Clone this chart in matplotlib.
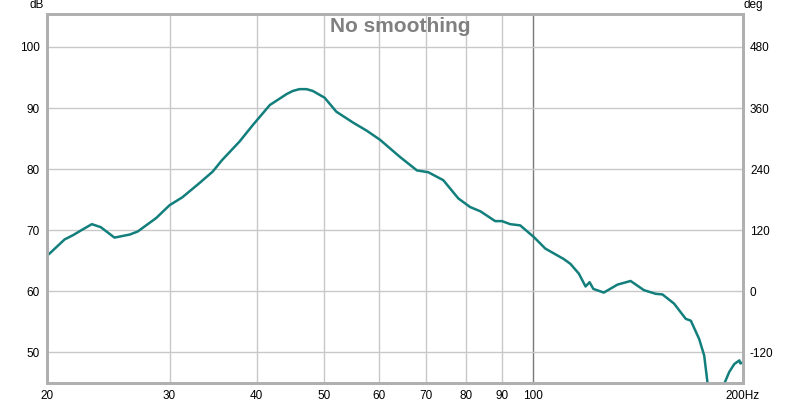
import matplotlib
matplotlib.use('Agg')
import matplotlib.pyplot as plt

matplotlib.rcParams['font.family'] = ['Liberation Sans', 'DejaVu Sans']
matplotlib.rcParams['font.size'] = 8.5

# frequency response
freq = [20.0, 20.13, 21.2, 21.8, 22.4, 23.2, 23.9, 25.0, 26.3, 27.0, 28.7, 30.0, 31.3,
        33.1, 34.6, 35.7, 37.8, 39.5, 41.8, 44.2, 45.1, 46.1, 47.2, 48.2, 50.1, 52.1, 55.1,
        57.6, 60.2, 64.3, 68.0, 70.6, 74.2, 78.0, 81.1, 83.9, 88.1, 90.1, 92.6,
        95.7, 100.1, 104.0, 110.5, 113.0, 116.2, 118.8, 120.4, 121.9, 126.2,
        132.0, 137.9, 144.1, 149.8, 153.2, 159.2, 165.5, 168.3, 173.0, 175.9,
        177.9, 181.1, 184.7, 188.0, 191.1, 194.3, 197.6, 198.3, 200.0]
spl = [66.0, 66.1, 68.5, 69.2, 70.0, 71.0, 70.5, 68.8, 69.3, 69.8, 72.0, 74.1, 75.4,
       77.7, 79.6, 81.5, 84.5, 87.2, 90.5, 92.3, 92.8, 93.1, 93.1, 92.8, 91.7, 89.4, 87.6,
       86.3, 84.8, 82.0, 79.8, 79.5, 78.2, 75.2, 73.8, 73.1, 71.5, 71.5, 71.0,
       70.8, 68.9, 67.0, 65.3, 64.5, 62.9, 60.8, 61.5, 60.4, 59.8,
       61.1, 61.7, 60.2, 59.6, 59.5, 58.0, 55.5, 55.2, 52.2, 49.5,
       44.9, 38.0, 38.0, 44.9, 46.8, 48.1, 48.7, 48.2, 48.4]

xticks = [20, 30, 40, 50, 60, 70, 80, 90, 100, 200]
xlabels = ['20', '30', '40', '50', '60', '70', '80', '90', '100', '200Hz']
db_ticks = [50, 60, 70, 80, 90, 100]
deg_labels = ['-120', '0', '120', '240', '360', '480']

fig = plt.figure(figsize=(8, 4.04), dpi=100)
ax = fig.add_axes([47 / 800, 1 - 383 / 404, 696 / 800, 369 / 404])

ax.set_xscale('log')
ax.set_xlim(20, 200)
ax.set_ylim(45, 105.4)

for f in xticks[1:-1]:
    c = '#7a7a7a' if f == 100 else '#c8c8c8'
    ax.axvline(f, color=c, lw=1, zorder=1)
for d in db_ticks:
    ax.axhline(d, color='#c8c8c8', lw=1, zorder=1)

ax.plot(freq, spl, color='#127f7c', lw=1.8, zorder=3)

ax.set_xticks(xticks)
ax.set_xticklabels(xlabels)
ax.xaxis.set_minor_locator(matplotlib.ticker.NullLocator())
ax.set_yticks(db_ticks)
ax.tick_params(length=0, pad=5)

ax2 = ax.twinx()
ax2.set_ylim((45 - 60) * 12, (105.4 - 60) * 12)
ax2.set_yticks([(d - 60) * 12 for d in db_ticks])
ax2.set_yticklabels(deg_labels)
ax2.tick_params(length=0, pad=5)

for a in (ax, ax2):
    for s in a.spines.values():
        s.set_color('#b0b0b0')
        s.set_linewidth(2)

fig.text(30 / 800, 1 - 5 / 404, 'dB', ha='left', va='center')
fig.text(744 / 800, 1 - 5 / 404, 'deg', ha='left', va='center')
fig.text(400 / 800, 1 - 27 / 404, 'No smoothing', ha='center', va='center',
         fontsize=15, fontweight='bold', color='#808080')

fig.savefig('out.png', dpi=100)
